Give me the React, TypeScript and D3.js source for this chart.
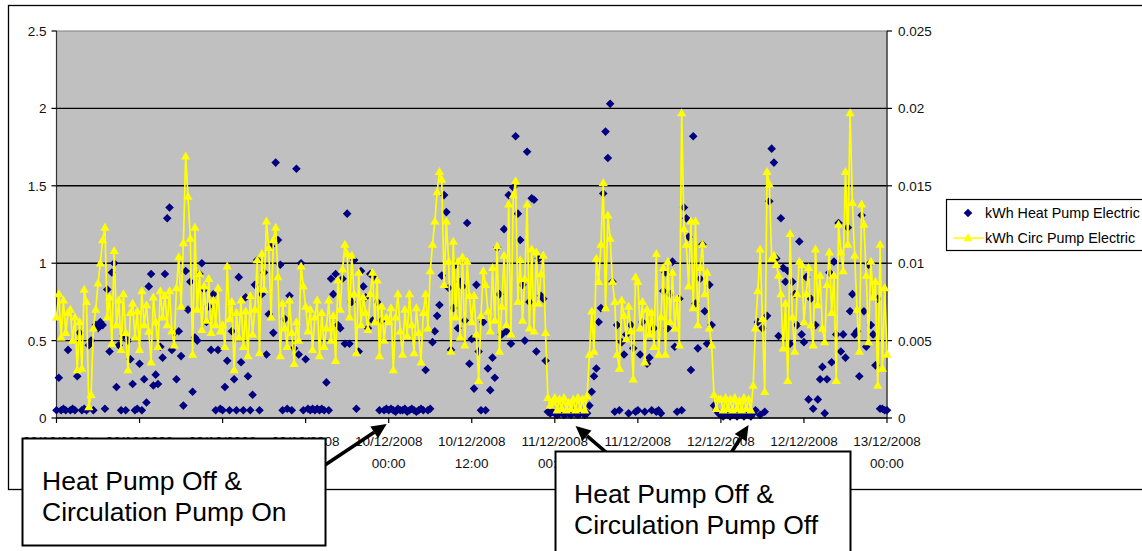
import React from "react";
import * as d3 from "d3";

const W = 1142;
const H = 551;

// Readings every 20 minutes from 08/12/2008 00:00
const startTime = Date.UTC(2008, 11, 8, 0, 0);
const endTime = Date.UTC(2008, 11, 13, 0, 0);
const stepMinutes = 20;

// Heat pump electricity, kWh per interval (left axis)
const heatPumpDay1 = [
  0.05, 0.26, 0.05, 0.06, 0.05, 0.44, 0.05, 0.06, 0.05, 0.27,
  0.55, 0.05, 0.06, 0.05, 0.47, 0.5, 0.05, 0.6, 0.58, 0.62,
  0.6, 0.06, 0.83, 0.43, 0.94, 1.0, 0.2, 0.47, 0.05, 0.53,
  0.05, 0.5, 0.38, 0.22, 0.05, 0.06, 0.35, 0.05, 0.25, 0.1,
  0.85, 0.93, 0.21, 0.28, 0.22, 0.46, 0.39, 0.93, 1.29, 1.36,
  0.44, 0.55, 0.25, 0.56, 0.4, 0.08, 0.95, 0.7, 0.88, 0.17,
  0.52, 0.5, 0.93, 1.0, 0.83, 0.62, 0.72, 0.44, 0.8, 0.05,
  0.44, 0.06,
];
const heatPumpDay2 = [
  0.05, 0.2, 0.37, 0.05, 0.56, 0.25, 0.05, 0.91, 0.36, 0.05,
  0.78, 0.27, 0.05, 0.15, 0.86, 1.02, 0.05, 0.8, 0.94, 0.41,
  0.67, 1.11, 0.55, 1.65, 1.15, 0.99, 0.05, 0.64, 0.06, 0.79,
  0.05, 0.45, 1.61, 0.41, 1.0, 0.05, 0.38, 0.06, 0.05, 0.06,
  0.05, 0.06, 0.05, 0.06, 0.05, 0.23, 0.05, 0.9, 0.8, 0.93,
  0.6, 0.58, 0.9, 0.48, 1.32, 0.48, 0.75, 1.02, 0.06, 0.43,
  0.95, 0.85, 0.78, 0.58, 0.93, 0.63, 0.9, 0.75, 0.05, 0.63,
  0.05, 0.06,
];
const heatPumpDay3 = [
  0.05, 0.06, 0.05, 0.04, 0.06, 0.05, 0.05, 0.06, 0.04, 0.05,
  0.06, 0.05, 0.04, 0.05, 0.06, 0.05, 0.31, 0.05, 0.06, 0.49,
  0.56, 0.66, 0.73, 0.92, 1.44, 1.33, 0.84, 0.44, 0.71, 0.99,
  0.58, 0.88, 0.85, 0.63, 1.26, 0.35, 0.51, 0.19, 0.86, 0.43,
  0.05, 0.62, 0.05, 0.32, 0.18, 0.39, 0.26, 1.1, 0.8, 0.54,
  1.22, 0.56, 1.44, 0.48, 1.49, 1.82, 1.32, 1.15, 0.86, 0.5,
  1.72, 0.75, 1.42, 1.41, 0.43, 1.03, 0.79, 0.77, 0.37, 0.04,
  0.03, 0.04,
];
const heatPumpDay4 = [
  0.03, 0.02, 0.03, 0.04, 0.02, 0.03, 0.03, 0.02, 0.04, 0.03,
  0.02, 0.03, 0.04, 0.02, 0.03, 0.08, 0.17, 0.27, 0.32, 0.62,
  0.71, 1.45, 1.85, 1.68, 2.03, 0.88, 0.04, 0.6, 0.05, 0.49,
  0.41, 0.54, 0.03, 0.6, 0.45, 0.04, 0.05, 0.41, 0.62, 0.04,
  0.35, 0.39, 0.05, 0.58, 0.04, 0.05, 0.03, 0.82, 0.94, 0.58,
  0.8, 1.01, 0.46, 0.04, 0.77, 0.05, 1.36, 1.29, 1.17, 0.31,
  1.82, 0.74, 0.45, 0.9, 1.12, 0.69, 0.48, 0.86, 0.6, 0.08,
  0.05, 0.03,
];
const heatPumpDay5 = [
  0.02, 0.01, 0.02, 0.02, 0.01, 0.02, 0.02, 0.01, 0.02, 0.02,
  0.01, 0.02, 0.02, 0.01, 0.03, 0.05, 0.62, 0.02, 0.58, 0.04,
  0.66, 1.4, 1.74, 1.65, 1.03, 0.53, 1.29, 0.97, 0.88, 0.95,
  0.48, 0.88, 0.8, 0.6, 1.14, 0.54, 0.49, 0.91, 0.12, 0.77,
  0.06, 0.6, 0.12, 0.25, 0.33, 0.03, 0.25, 0.94, 0.36, 1.01,
  0.54, 1.26, 0.43, 0.54, 0.39, 1.23, 0.69, 0.8, 0.54, 0.56,
  0.27, 1.31, 0.69, 0.46, 0.99, 0.6, 0.54, 0.34, 0.77, 0.06,
  0.06, 0.05, 0.05,
];

// Circulation pump electricity, Wh per interval (right axis shows kWh)
const circPumpWhDay1 = [
  6.5, 8.0, 5.2, 7.6, 5.5, 6.8, 7.0, 5.0, 6.5, 3.1,
  6.2, 3.2, 8.3, 7.5, 0.7, 1.5, 5.8, 7.0, 8.7, 10.0,
  11.5, 12.3, 6.5, 7.8, 4.8, 10.8, 6.0, 7.6, 4.4, 8.0,
  5.5, 3.1, 6.8, 7.4, 5.2, 6.9, 4.4, 8.2, 6.0, 7.3,
  5.6, 3.6, 7.8, 6.2, 4.6, 8.2, 6.5, 7.9, 6.0, 8.2,
  5.6, 4.7, 8.4, 10.4, 7.2, 11.3, 16.9, 14.3, 11.6, 4.1,
  12.3, 7.0, 9.3, 5.7, 8.5, 6.3, 9.0, 5.5, 7.6, 6.0,
  8.4, 5.6,
];
const circPumpWhDay2 = [
  6.0, 4.6, 9.8, 6.4, 7.5, 3.1, 6.8, 5.2, 7.6, 4.6,
  6.9, 4.0, 7.9, 5.4, 7.0, 10.2, 4.2, 10.6, 8.3, 12.7,
  11.0, 6.5, 11.5, 12.3, 9.1, 4.0, 7.4, 5.8, 4.6, 7.6,
  5.5, 3.5, 6.2, 5.0, 9.8, 8.5, 7.2, 5.6, 7.0, 4.4,
  6.5, 7.6, 4.0, 6.8, 4.6, 5.8, 7.6, 5.0, 6.6, 3.7,
  8.9, 7.0, 9.6, 11.2, 10.6, 6.5, 10.5, 8.0, 4.2, 9.4,
  6.0, 7.8, 6.8, 5.7, 8.0, 9.4, 6.2, 8.9, 4.0, 7.2,
  5.0, 6.5,
];
const circPumpWhDay3 = [
  6.2, 7.1, 3.1, 6.5, 8.0, 5.6, 4.1, 7.0, 5.3, 8.0,
  6.0, 4.2, 7.1, 5.5, 3.6, 6.8, 8.0, 5.8, 9.5, 11.2,
  12.7, 14.6, 15.9, 15.4, 8.6, 12.7, 10.1, 4.3, 11.4, 6.5,
  10.1, 5.2, 10.4, 4.7, 10.1, 7.9, 6.2, 7.9, 5.4, 2.4,
  6.6, 9.5, 8.6, 6.9, 5.6, 9.7, 6.3, 11.1, 4.3, 7.2,
  10.5, 6.0, 13.8, 5.4, 14.4, 15.3, 7.5, 10.2, 6.3, 9.0,
  13.8, 5.8, 10.9, 5.6, 10.7, 7.4, 9.3, 10.5, 5.5, 1.3,
  0.8, 1.0,
];
const circPumpWhDay4 = [
  1.3, 0.5, 1.2, 0.6, 1.3, 0.5, 1.0, 0.6, 1.2, 0.5,
  1.3, 0.6, 1.2, 0.5, 1.4, 4.1, 6.9, 4.3, 10.3, 8.8,
  11.2, 15.2, 7.1, 13.1, 11.6, 8.8, 7.5, 4.1, 3.2, 7.6,
  6.6, 5.1, 7.2, 5.6, 2.5, 9.1, 8.8, 5.8, 7.5, 3.6,
  7.0, 5.4, 6.8, 4.6, 10.6, 4.1, 6.5, 9.7, 4.1, 10.1,
  6.2, 9.4, 5.8, 7.7, 4.7, 19.7, 12.2, 11.2, 8.5, 12.7,
  7.1, 12.7, 6.0, 9.7, 11.2, 8.0, 9.4, 5.8, 4.7, 1.5,
  0.6, 1.2,
];
const circPumpWhDay5 = [
  1.2, 0.5, 1.3, 0.6, 1.2, 0.5, 1.3, 0.6, 1.1, 0.5,
  1.3, 0.6, 1.2, 0.5, 2.1, 5.8, 8.2, 10.9, 6.4, 1.7,
  15.9, 15.1, 10.3, 10.5, 9.9, 9.2, 8.0, 4.5, 7.4, 2.4,
  11.9, 6.5, 4.3, 8.0, 10.1, 9.9, 6.2, 8.0, 9.7, 6.0,
  4.7, 10.9, 7.3, 9.2, 5.8, 4.9, 8.6, 10.7, 6.8, 9.2,
  2.4, 12.5, 10.7, 9.5, 15.9, 11.2, 19.7, 13.9, 10.5, 7.0,
  4.3, 13.8, 12.5, 9.2, 4.9, 10.1, 7.8, 8.8, 2.1, 11.2,
  3.2, 8.4, 4.1,
];

const leftTicks = [0, 0.5, 1, 1.5, 2, 2.5];
const leftTickLabels = ["0", "0.5", "1", "1.5", "2", "2.5"];
const rightTicks = [0, 0.005, 0.01, 0.015, 0.02, 0.025];
const rightTickLabels = ["0", "0.005", "0.01", "0.015", "0.02", "0.025"];
const seriesNames = ["kWh Heat Pump Electric", "kWh Circ Pump Electric"];

const calloutOn = ["Heat Pump Off &", "Circulation Pump On"];
const calloutOff = ["Heat Pump Off &", "Circulation Pump Off"];
// times the callout arrows point at
const calloutOnTarget = Date.UTC(2008, 11, 10, 0, 0);
const calloutOffTargets = [Date.UTC(2008, 11, 11, 3, 0), Date.UTC(2008, 11, 12, 4, 0)];

const heatPump = [...heatPumpDay1, ...heatPumpDay2, ...heatPumpDay3, ...heatPumpDay4, ...heatPumpDay5];
const circPumpWh = [...circPumpWhDay1, ...circPumpWhDay2, ...circPumpWhDay3, ...circPumpWhDay4, ...circPumpWhDay5];

const FONT = "'Liberation Sans', Arial, sans-serif";
const NAVY = "#000080";
const YELLOW = "#FFFF00";

const plot = { left: 56.5, right: 887, top: 31, bottom: 418 };

const timeAt = (i: number) => new Date(startTime + i * stepMinutes * 60000);

const diamond = "M0,-4.3L4.3,0L0,4.3L-4.3,0Z";
const triangle = "M0,-4.8L4.6,3.2L-4.6,3.2Z";

function Arrow({ x1, y1, x2, y2 }: { x1: number; y1: number; x2: number; y2: number }) {
  const ang = Math.atan2(y2 - y1, x2 - x1);
  const len = 15;
  const half = 7;
  const bx = x2 - len * Math.cos(ang);
  const by = y2 - len * Math.sin(ang);
  const px = -Math.sin(ang) * half;
  const py = Math.cos(ang) * half;
  return (
    <g>
      <line x1={x1} y1={y1} x2={bx} y2={by} stroke="#000" strokeWidth={3.6} />
      <path d={`M${x2},${y2}L${bx + px},${by + py}L${bx - px},${by - py}Z`} fill="#000" />
    </g>
  );
}

export default function App() {
  const x = d3.scaleUtc().domain([new Date(startTime), new Date(endTime)]).range([plot.left, plot.right]);
  const yL = d3.scaleLinear().domain([0, 2.5]).range([plot.bottom, plot.top]);
  const yR = d3.scaleLinear().domain([0, 0.025]).range([plot.bottom, plot.top]);

  const xTicks = x.ticks(d3.utcHour.every(12)!);
  const fmtDate = d3.utcFormat("%d/%m/%Y");
  const fmtTime = d3.utcFormat("%H:%M");

  const circLine = d3
    .line<number>()
    .x((_, i) => x(timeAt(i)))
    .y((v) => yR(v / 1000))(circPumpWh);

  const tipOn = x(new Date(calloutOnTarget));
  const tipOffA = x(new Date(calloutOffTargets[0]));
  const tipOffB = x(new Date(calloutOffTargets[1]));

  return (
    <svg
      width={W}
      height={H}
      style={{ position: "fixed", left: 0, top: 0, background: "#fff", display: "block" }}
      fontFamily={FONT}
    >
      <rect x={0} y={0} width={W} height={H} fill="#fff" />
      {/* chart frame */}
      <rect x={8.5} y={5.5} width={1160} height={484} fill="#fff" stroke="#000" strokeWidth={1.3} />

      {/* plot area */}
      <rect
        x={plot.left}
        y={plot.top}
        width={plot.right - plot.left}
        height={plot.bottom - plot.top}
        fill="#C0C0C0"
        stroke="#808080"
        strokeWidth={1}
      />
      {leftTicks.slice(1, -1).map((t) => (
        <line key={t} x1={plot.left} x2={plot.right} y1={yL(t)} y2={yL(t)} stroke="#000" strokeWidth={1.4} />
      ))}

      {/* left axis */}
      <line x1={plot.left} x2={plot.left} y1={plot.top} y2={plot.bottom} stroke="#333" strokeWidth={1.2} />
      {leftTicks.map((t, i) => (
        <g key={t}>
          <line x1={plot.left - 5} x2={plot.left} y1={yL(t)} y2={yL(t)} stroke="#000" strokeWidth={1.2} />
          <text x={plot.left - 10} y={yL(t) + 5} fontSize={13.5} textAnchor="end" fill="#111">
            {leftTickLabels[i]}
          </text>
        </g>
      ))}

      {/* right axis */}
      <line x1={plot.right} x2={plot.right} y1={plot.top} y2={plot.bottom} stroke="#333" strokeWidth={1.2} />
      {rightTicks.map((t, i) => (
        <g key={t}>
          <line x1={plot.right} x2={plot.right + 5} y1={yR(t)} y2={yR(t)} stroke="#000" strokeWidth={1.2} />
          <text x={plot.right + 11} y={yR(t) + 5} fontSize={13.5} textAnchor="start" fill="#111">
            {rightTickLabels[i]}
          </text>
        </g>
      ))}

      {/* heat pump readings */}
      <g fill={NAVY}>
        {heatPump.map((v, i) => (
          <path key={i} d={diamond} transform={`translate(${x(timeAt(i))},${yL(v)})`} />
        ))}
      </g>

      {/* circulation pump readings */}
      <path d={circLine ?? ""} fill="none" stroke={YELLOW} strokeWidth={1.7} />
      <g fill={YELLOW}>
        {circPumpWh.map((v, i) => (
          <path key={i} d={triangle} transform={`translate(${x(timeAt(i))},${yR(v / 1000)})`} />
        ))}
      </g>

      {/* bottom axis */}
      <line x1={plot.left} x2={plot.right} y1={plot.bottom} y2={plot.bottom} stroke="#000" strokeWidth={1.3} />
      {xTicks.map((t) => (
        <g key={+t}>
          <line x1={x(t)} x2={x(t)} y1={plot.bottom} y2={plot.bottom + 5} stroke="#000" strokeWidth={1.2} />
          <text x={x(t)} y={446} fontSize={13.5} textAnchor="middle" fill="#111">
            {fmtDate(t)}
          </text>
          <text x={x(t)} y={468} fontSize={13.5} textAnchor="middle" fill="#111">
            {fmtTime(t)}
          </text>
        </g>
      ))}

      {/* legend */}
      <rect x={946.5} y={199.5} width={220} height={51} fill="#fff" stroke="#000" strokeWidth={1.2} />
      <path d={diamond} fill={NAVY} transform="translate(968,213)" />
      <text x={985} y={218} fontSize={14.3} fill="#000">
        {seriesNames[0]}
      </text>
      <line x1={953} x2={984} y1={238} y2={238} stroke={YELLOW} strokeWidth={1.5} />
      <path d={triangle} fill={YELLOW} transform="translate(968,238)" />
      <text x={985} y={243} fontSize={14.3} fill="#000">
        {seriesNames[1]}
      </text>

      {/* callouts */}
      <Arrow x1={322} y1={467} x2={tipOn - 2} y2={424} />
      <rect x={22.5} y={438.5} width={303} height={107} fill="#fff" stroke="#000" strokeWidth={2} />
      {calloutOn.map((s, i) => (
        <text key={i} x={42} y={490 + i * 31} fontSize={26.5} fill="#000">
          {s}
        </text>
      ))}

      <Arrow x1={607} y1={453} x2={tipOffA} y2={426} />
      <Arrow x1={731} y1={453} x2={tipOffB} y2={425} />
      <rect x={555.5} y={451.5} width={295} height={120} fill="#fff" stroke="#000" strokeWidth={2} />
      {calloutOff.map((s, i) => (
        <text key={i} x={574} y={503 + i * 31} fontSize={26.5} fill="#000">
          {s}
        </text>
      ))}
    </svg>
  );
}
